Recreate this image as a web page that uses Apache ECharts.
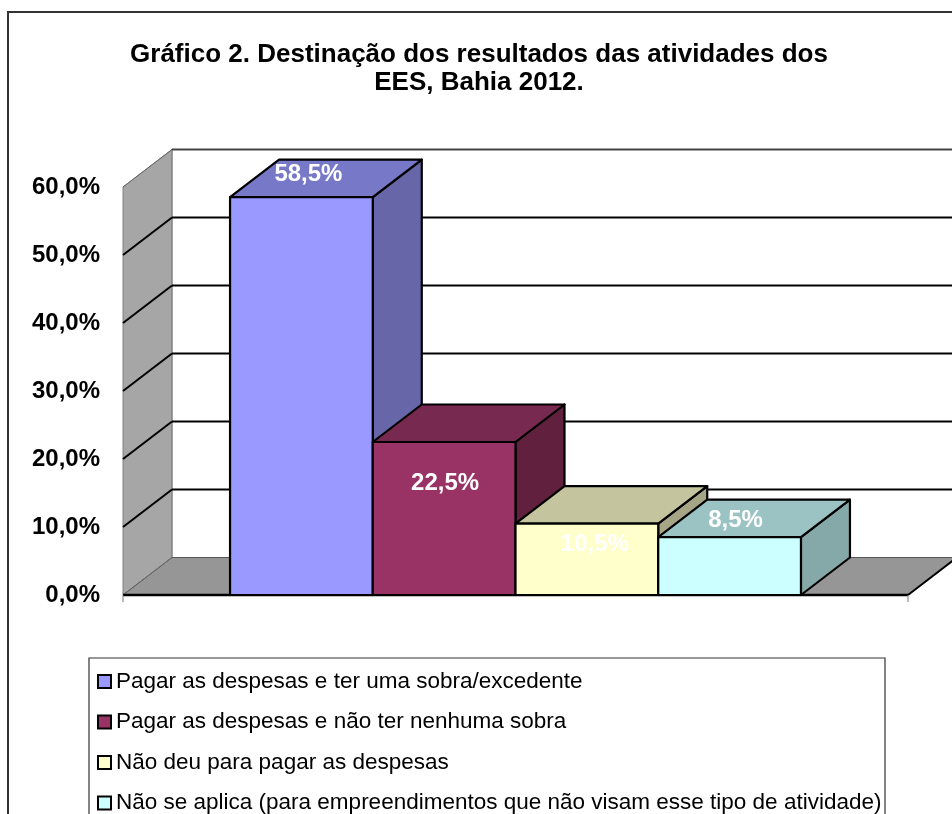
<!DOCTYPE html>
<html>
<head>
<meta charset="utf-8">
<script src="https://cdn.jsdelivr.net/npm/echarts@6/dist/echarts.min.js"></script>
<style>
  html, body { margin: 0; padding: 0; background: #fff; }
  #main { width: 952px; height: 814px; }
</style>
</head>
<body>
<div id="main"></div>
<script>
// dados do gráfico
const categories = [
  'Pagar as despesas e ter uma sobra/excedente',
  'Pagar as despesas e não ter nenhuma sobra',
  'Não deu para pagar as despesas',
  'Não se aplica (para empreendimentos que não visam esse tipo de atividade)'
];
const values = [58.5, 22.5, 10.5, 8.5];
const yTicks = [0, 10, 20, 30, 40, 50, 60];

// cores das faces (frente, topo, lateral)
const frontColors = ['#9999ff', '#993366', '#ffffcc', '#ccffff'];
const topColors = ['#7878c8', '#772950', '#c4c49e', '#9cc3c3'];
const sideColors = ['#6666a8', '#62203f', '#a6a686', '#85a8a8'];
// deslocamento manual dos rótulos (px, relativo ao topo frontal)
const labelShift = [[7, -23], [1, 41], [8, 21], [6, -17]];

const DX = 49, DY = -37.5;       // profundidade 3D
const X_MIN = -1.25, X_MAX = 4.25;
const FONT = "'Liberation Sans', Arial, sans-serif";

const fmt = v => v.toFixed(1).replace('.', ',') + '%';

const chart = echarts.init(document.getElementById('main'));

function renderWalls(params, api) {
  const p0 = api.coord([X_MIN, 0]);
  const p1 = api.coord([X_MAX, 0]);
  const pt = api.coord([X_MIN, 60]);
  const children = [];
  // parede lateral
  children.push({
    type: 'polygon',
    shape: { points: [[pt[0], pt[1]], [pt[0] + DX, pt[1] + DY], [p0[0] + DX, p0[1] + DY], [p0[0], p0[1]]] },
    style: { fill: '#a6a6a6', stroke: '#808080', lineWidth: 1 }
  });
  // piso
  children.push({
    type: 'polygon',
    shape: { points: [[p0[0], p0[1]], [p1[0], p1[1]], [p1[0] + DX, p1[1] + DY], [p0[0] + DX, p0[1] + DY]] },
    style: { fill: '#969696', stroke: '#666', lineWidth: 1 }
  });
  // borda esquerda da parede do fundo
  children.push({
    type: 'line',
    shape: { x1: pt[0] + DX, y1: pt[1] + DY, x2: p0[0] + DX, y2: p0[1] + DY },
    style: { stroke: '#808080', lineWidth: 1 }
  });
  yTicks.forEach(t => {
    const q = api.coord([X_MIN, t]);
    const inner = t > 0 && t < 60;
    const col = inner ? '#000' : (t === 60 ? '#444' : '#555');
    children.push({
      type: 'line',
      shape: { x1: q[0] + DX, y1: q[1] + DY, x2: p1[0] + DX, y2: q[1] + DY },
      style: { stroke: col, lineWidth: inner || t === 60 ? 2 : 1.2 }
    });
    children.push({
      type: 'line',
      shape: { x1: q[0], y1: q[1], x2: q[0] + DX, y2: q[1] + DY },
      style: { stroke: inner ? '#000' : '#666', lineWidth: inner ? 2 : 1 }
    });
  });
  // aresta frontal e direita do piso
  children.push({
    type: 'line',
    shape: { x1: p0[0], y1: p0[1], x2: p1[0], y2: p1[1] },
    style: { stroke: '#000', lineWidth: 2.5 }
  });
  children.push({
    type: 'line',
    shape: { x1: p1[0], y1: p1[1], x2: p1[0] + DX, y2: p1[1] + DY },
    style: { stroke: '#000', lineWidth: 2 }
  });
  [p0, p1].forEach(p => {
    children.push({
      type: 'line',
      shape: { x1: p[0], y1: p[1], x2: p[0], y2: p[1] + 7 },
      style: { stroke: '#777', lineWidth: 1 }
    });
  });
  return { type: 'group', children: children };
}

function renderBar(params, api) {
  const k = params.seriesIndex - 1;
  const i = api.value(0), v = api.value(1);
  const b = api.coord([i, 0]);
  const t = api.coord([i, v]);
  const w = api.size([1, 0])[0];
  const l = b[0] - w / 2, r = b[0] + w / 2, y0 = b[1], y1 = t[1];
  const edge = { stroke: '#000', lineWidth: 2.2, lineJoin: 'round' };
  return {
    type: 'group',
    children: [
      {
        type: 'polygon',
        shape: { points: [[r, y1], [r + DX, y1 + DY], [r + DX, y0 + DY], [r, y0]] },
        style: Object.assign({ fill: sideColors[k] }, edge)
      },
      {
        type: 'polygon',
        shape: { points: [[l, y1], [l + DX, y1 + DY], [r + DX, y1 + DY], [r, y1]] },
        style: Object.assign({ fill: topColors[k] }, edge)
      },
      {
        type: 'rect',
        shape: { x: l, y: y1, width: w, height: y0 - y1 },
        style: Object.assign({ fill: frontColors[k] }, edge)
      },
      {
        type: 'text',
        x: b[0] + labelShift[k][0],
        y: y1 + labelShift[k][1],
        style: {
          text: fmt(v),
          fill: '#fff',
          font: 'bold 24px ' + FONT,
          align: 'center',
          verticalAlign: 'middle'
        }
      }
    ]
  };
}

const series = [{
  type: 'custom',
  name: 'walls',
  silent: true,
  renderItem: renderWalls,
  data: [[0, 0]],
  z: 1
}];
categories.forEach((name, i) => {
  series.push({
    type: 'custom',
    name: name,
    renderItem: renderBar,
    itemStyle: { color: frontColors[i] },
    encode: { x: 0, y: 1 },
    data: [[i, values[i]]],
    z: 2
  });
});

const option = {
  animation: false,
  title: {
    text: 'Gráfico 2. Destinação dos resultados das atividades dos\nEES, Bahia 2012.',
    left: 474,
    top: 36,
    textAlign: 'center',
    textStyle: {
      fontFamily: FONT,
      fontWeight: 'bold',
      fontSize: 26,
      lineHeight: 28,
      color: '#000'
    }
  },
  grid: { left: 123, right: 44, top: 187, bottom: 219 },
  xAxis: { type: 'value', min: X_MIN, max: X_MAX, show: false },
  yAxis: {
    type: 'value',
    min: 0,
    max: 60,
    interval: 10,
    axisLine: { show: true, lineStyle: { color: '#777', width: 1 } },
    axisTick: { show: true, length: 6, lineStyle: { color: '#555' } },
    splitLine: { show: false },
    axisLabel: {
      margin: 23,
      formatter: v => fmt(v),
      color: '#000',
      fontFamily: FONT,
      fontWeight: 'bold',
      fontSize: 24
    }
  },
  legend: {
    data: categories,
    orient: 'vertical',
    left: 97,
    top: 670,
    width: 800,
    height: 300,
    padding: 0,
    itemGap: 17.5,
    itemWidth: 13,
    itemHeight: 13,
    icon: 'rect',
    selectedMode: false,
    itemStyle: { borderColor: '#000', borderWidth: 2 },
    textStyle: { fontFamily: FONT, fontSize: 22.5, lineHeight: 22, color: '#000' }
  },
  graphic: [
    {
      type: 'rect',
      z: -1,
      shape: { x: 8, y: 12, width: 1000, height: 900 },
      style: { fill: 'none', stroke: '#333', lineWidth: 2 }
    },
    {
      type: 'rect',
      z: -1,
      shape: { x: 89, y: 658, width: 796, height: 200 },
      style: { fill: 'none', stroke: '#333', lineWidth: 1.2 }
    }
  ],
  series: series
};

chart.setOption(option);
</script>
</body>
</html>
